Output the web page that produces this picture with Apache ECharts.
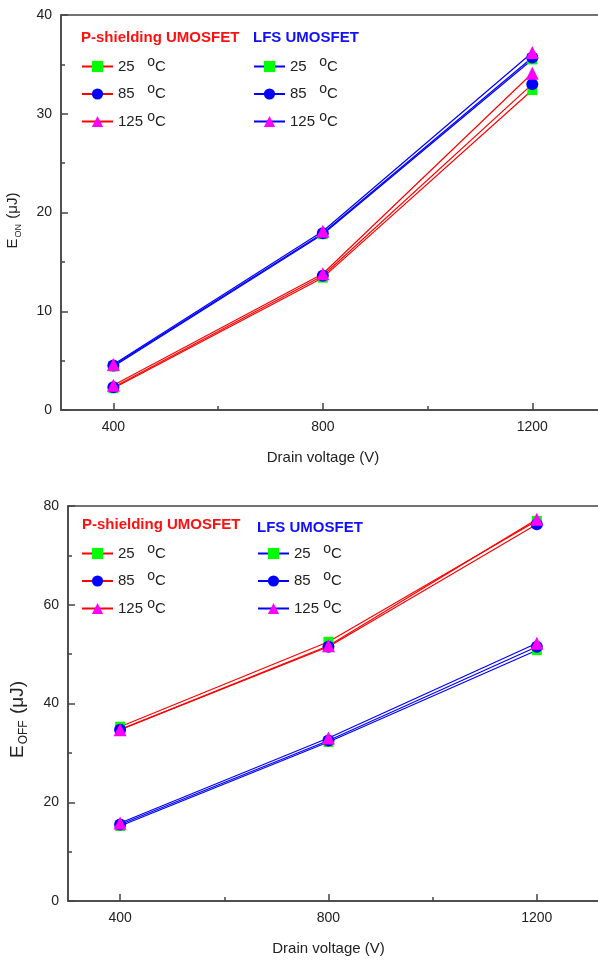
<!DOCTYPE html>
<html>
<head>
<meta charset="utf-8" />
<title>E_ON / E_OFF vs drain voltage</title>
<script src="https://cdn.jsdelivr.net/npm/echarts@6/dist/echarts.min.js"></script>
<style>
html, body { margin: 0; padding: 0; background: #fff; }
#chart { width: 598px; height: 961px; }
</style>
</head>
<body>
<div id="chart"></div>
<script>
// data
var voltages = [400, 800, 1200];
var temps = ['25', '85', '125'];

var eonP25 = [2.2, 13.4, 32.4];
var eonP85 = [2.3, 13.6, 33.0];
var eonP125 = [2.5, 13.8, 34.1];
var eonL25 = [4.4, 17.8, 35.5];
var eonL85 = [4.5, 17.9, 35.7];
var eonL125 = [4.6, 18.1, 36.2];

var eoffP25 = [35.3, 52.5, 77.0];
var eoffP85 = [34.7, 51.5, 76.3];
var eoffP125 = [34.7, 51.7, 77.3];
var eoffL25 = [15.2, 32.2, 50.8];
var eoffL85 = [15.5, 32.5, 51.5];
var eoffL125 = [15.8, 33.0, 52.2];

var xMajor = [400, 800, 1200];
var xMinor = [600, 1000];

var symbols = ['rect', 'circle', 'triangle'];
var symColors = ['#00ff00', '#0000ff', '#ff00ff'];
var symSizes = [10, 12, 13];
var font = 'Liberation Sans, Arial, sans-serif';
var axisColor = '#444';

function line(name, vals, idx, k, color) {
	return {
		type: 'line',
		name: name,
		xAxisIndex: idx * 2,
		yAxisIndex: idx,
		data: voltages.map(function (v, i) { return [v, vals[i]]; }),
		symbol: symbols[k],
		symbolSize: symSizes[k],
		itemStyle: { color: symColors[k] },
		lineStyle: { color: color, width: 1.2 },
		emphasis: { disabled: true },
		animation: false
	};
}

function xAxes(idx) {
	return [{
		type: 'value', gridIndex: idx, min: 300, max: 1400,
		// the plot runs off the right edge, so pull the title back to the visible middle
		name: 'Drain voltage (V)', nameLocation: 'middle', nameGap: 40,
		nameTextStyle: { fontSize: 15, color: '#222', fontFamily: font, padding: [0, 52, 0, 0] },
		axisLine: { show: true, lineStyle: { color: axisColor, width: 1.5 } },
		axisTick: { inside: true, length: 7, customValues: xMajor, lineStyle: { color: axisColor, width: 1.5 } },
		axisLabel: { customValues: xMajor, margin: 10, fontSize: 14, color: '#222', fontFamily: font,
			formatter: function (v) { return String(v); } },
		splitLine: { show: false }
	}, {
		type: 'value', gridIndex: idx, min: 300, max: 1400, position: 'bottom',
		axisLine: { show: false },
		axisTick: { inside: true, length: 4, customValues: xMinor, lineStyle: { color: axisColor, width: 1.5 } },
		axisLabel: { show: false },
		splitLine: { show: false }
	}];
}

function yAxis(idx, max, interval, sub, fs, gap, shift) {
	return {
		type: 'value', gridIndex: idx, min: 0, max: max, interval: interval,
		name: '{e|E}{s|' + sub + '}{e| (μJ)}', nameLocation: 'middle', nameGap: gap,
		nameTextStyle: {
			color: '#222', fontFamily: font, padding: [0, shift, 0, 0],
			rich: {
				e: { fontSize: fs, fontFamily: font, color: '#222', lineHeight: fs + 5, verticalAlign: 'middle' },
				s: { fontSize: Math.round(fs * 0.62), fontFamily: font, color: '#222', lineHeight: fs + 5, verticalAlign: 'bottom', padding: [6, 1, 0, 1] }
			}
		},
		axisLine: { show: true, lineStyle: { color: axisColor, width: 1.5 } },
		axisTick: { inside: true, length: 7, lineStyle: { color: axisColor, width: 1.5 } },
		minorTick: { show: true, splitNumber: 2, length: 4, lineStyle: { color: axisColor, width: 1.5 } },
		axisLabel: { margin: 9, fontSize: 14, color: '#222', fontFamily: font },
		splitLine: { show: false }
	};
}

function legend(names, left, top) {
	return {
		orient: 'vertical', left: left, top: top,
		data: names, itemWidth: 31, itemHeight: 14, itemGap: 8.5,
		selectedMode: false,
		formatter: function (n) {
			var t = n.slice(1);
			return t + (t.length < 3 ? '   ' : ' ') + '{o|o}C';
		},
		textStyle: {
			fontSize: 15, color: '#222', fontFamily: font,
			rich: {
				o: { fontSize: 14, fontFamily: font, color: '#222', padding: [0, 0, 9, 0] }
			}
		}
	};
}

var pNames = temps.map(function (t) { return 'P' + t; });
var lNames = temps.map(function (t) { return 'L' + t; });

var titleStyle = function (c) {
	return { fontSize: 15, fontWeight: 'bold', color: c, fontFamily: font };
};

var chart = echarts.init(document.getElementById('chart'), null, { renderer: 'canvas' });
chart.setOption({
	backgroundColor: '#fff',
	animation: false,
	title: [
		{ text: 'P-shielding UMOSFET', left: 76, top: 25, textStyle: titleStyle('#ff1010') },
		{ text: 'LFS UMOSFET', left: 248, top: 25, textStyle: titleStyle('#1010ff') },
		{ text: 'P-shielding UMOSFET', left: 77, top: 512, textStyle: titleStyle('#ff1010') },
		{ text: 'LFS UMOSFET', left: 252, top: 515, textStyle: titleStyle('#1010ff') }
	],
	legend: [
		legend(pNames, 76, 50),
		legend(lNames, 248, 50),
		legend(pNames, 76, 537),
		legend(lNames, 252, 537)
	],
	grid: [
		{ left: 61, top: 15, width: 576, height: 395, outerBoundsMode: 'none', show: true, borderColor: axisColor, borderWidth: 1.5 },
		{ left: 68, top: 506, width: 573, height: 395, outerBoundsMode: 'none', show: true, borderColor: axisColor, borderWidth: 1.5 }
	],
	xAxis: xAxes(0).concat(xAxes(1)),
	yAxis: [yAxis(0, 40, 10, 'ON', 15, 38, 16), yAxis(1, 80, 20, 'OFF', 19, 38, 32)],
	series: [
		line('P25', eonP25, 0, 0, '#ff0000'),
		line('P85', eonP85, 0, 1, '#ff0000'),
		line('P125', eonP125, 0, 2, '#ff0000'),
		line('L25', eonL25, 0, 0, '#0000ff'),
		line('L85', eonL85, 0, 1, '#0000ff'),
		line('L125', eonL125, 0, 2, '#0000ff'),
		line('P25', eoffP25, 1, 0, '#ff0000'),
		line('P85', eoffP85, 1, 1, '#ff0000'),
		line('P125', eoffP125, 1, 2, '#ff0000'),
		line('L25', eoffL25, 1, 0, '#0000ff'),
		line('L85', eoffL85, 1, 1, '#0000ff'),
		line('L125', eoffL125, 1, 2, '#0000ff')
	]
});
</script>
</body>
</html>
